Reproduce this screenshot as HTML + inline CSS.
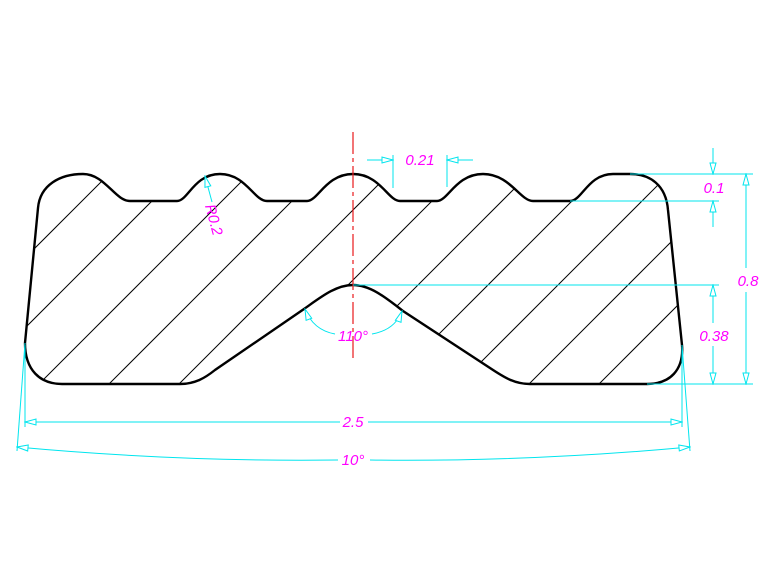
<!DOCTYPE html>
<html><head><meta charset="utf-8"><style>html,body{margin:0;padding:0;background:#fff;overflow:hidden;width:776px;height:582px}svg{display:block}</style></head>
<body>
<svg width="776" height="582" viewBox="0 0 776 582" xmlns="http://www.w3.org/2000/svg">
<defs>
<marker id="a" viewBox="-13 -4 14 8" refX="0" refY="0" markerWidth="14" markerHeight="8" markerUnits="userSpaceOnUse" orient="auto-start-reverse">
<path d="M0,0 L-11,-3 L-11,3 Z" fill="#fff" stroke="#00e5ee" stroke-width="1"/>
</marker>
<clipPath id="c"><path id="prof" d="M25,343 L38,208 C40,185 60,174 83,174 C105,174 115,201 130,201 L177,201 C188,201 194,174 220,174 C246,174 254,201 267,201 L307,201 C318,201 326,174 353,174 C380,174 388,201 400,201 L437,201 C448,201 456,174 483,174 C510,174 520,201 533,201 L570,201 C582,201 588,174 613,174 L630,174 C650,174 666,185 668,210 L682,345 C684,370 670,384 647,384 L530,384 C515,384 505,378 490,368 L403,311 C385,297 370,285 353,285 C336,285 321,297 304,309 L215,370 C205,378 195,384 180,384 L62,384 C40,384 25,370 25,343 Z"/></clipPath>
</defs>
<g clip-path="url(#c)" stroke="#000" stroke-width="1">
<line x1="0" y1="283" x2="283" y2="0"/><line x1="0" y1="353" x2="353" y2="0"/><line x1="0" y1="423" x2="423" y2="0"/><line x1="0" y1="493" x2="493" y2="0"/><line x1="0" y1="563" x2="563" y2="0"/><line x1="0" y1="633" x2="633" y2="0"/><line x1="0" y1="703" x2="703" y2="0"/><line x1="0" y1="773" x2="773" y2="0"/><line x1="0" y1="843" x2="843" y2="0"/><line x1="0" y1="913" x2="913" y2="0"/><line x1="0" y1="983" x2="983" y2="0"/><line x1="0" y1="1053" x2="1053" y2="0"/>
</g>
<use href="#prof" fill="none" stroke="#000" stroke-width="2.4"/>
<line x1="353" y1="132" x2="353" y2="362" stroke="#e8191c" stroke-width="1.2" stroke-dasharray="22,4,4,4"/>
<g stroke="#00e5ee" stroke-width="1" fill="none">
<line x1="393" y1="155" x2="393" y2="188"/><line x1="447" y1="155" x2="447" y2="187"/>
<line x1="367" y1="160" x2="393" y2="160" marker-end="url(#a)"/><line x1="473" y1="160" x2="447" y2="160" marker-end="url(#a)"/>
<line x1="630" y1="174" x2="753" y2="174"/><line x1="570" y1="201" x2="719" y2="201"/>
<line x1="353" y1="285" x2="719" y2="285"/><line x1="647" y1="384" x2="753" y2="384"/>
<line x1="746" y1="174" x2="746" y2="268" marker-start="url(#a)"/><line x1="746" y1="292" x2="746" y2="384" marker-end="url(#a)"/>
<line x1="713" y1="148" x2="713" y2="174" marker-end="url(#a)"/><line x1="713" y1="227" x2="713" y2="201" marker-end="url(#a)"/>
<line x1="713" y1="285" x2="713" y2="323" marker-start="url(#a)"/><line x1="713" y1="346" x2="713" y2="384" marker-end="url(#a)"/>
<line x1="25" y1="345" x2="25" y2="427"/><line x1="682" y1="347" x2="682" y2="427"/>
<line x1="25" y1="422" x2="340" y2="422" marker-start="url(#a)"/><line x1="368" y1="422" x2="682" y2="422" marker-end="url(#a)"/>
<line x1="25" y1="343" x2="17" y2="451"/><line x1="682" y1="345" x2="690" y2="451"/>
<path d="M17,447 Q180,462 338,460" marker-start="url(#a)"/><path d="M370,460 Q526,462 690,447" marker-end="url(#a)"/>
<path d="M305,309 Q313,330 335,334" marker-start="url(#a)"/><path d="M372,334 Q395,330 402,311" marker-end="url(#a)"/>
<line x1="212" y1="202" x2="205" y2="176" marker-end="url(#a)"/>
</g>
<g fill="#ff00ff" font-family="Liberation Sans, sans-serif" font-style="italic" font-size="15" text-anchor="middle">
<text x="420" y="165">0.21</text>
<text x="714" y="193">0.1</text>
<text x="748" y="286">0.8</text>
<text x="714" y="341">0.38</text>
<text x="353" y="427">2.5</text>
<text x="353" y="465">10°</text>
<text x="353" y="341">110°</text>
<text transform="translate(209,221) rotate(75)" x="0" y="0">R0.2</text>
</g>
</svg>
</body></html>
